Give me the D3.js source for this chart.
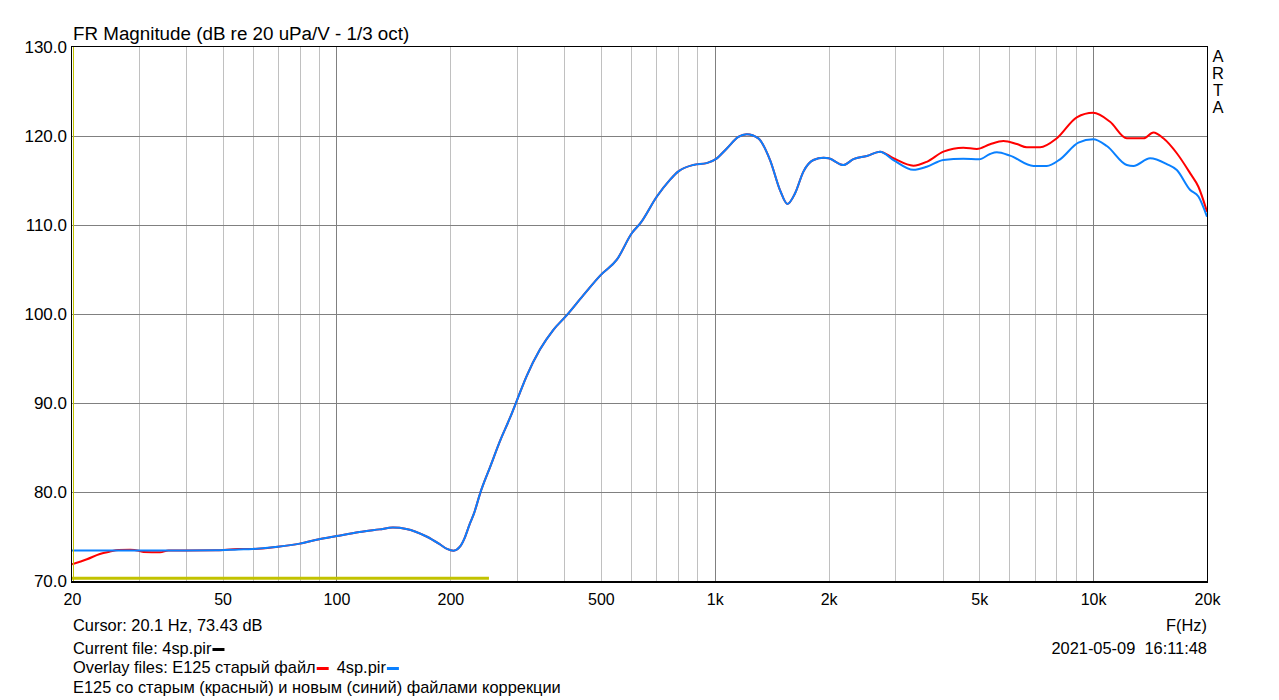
<!DOCTYPE html>
<html>
<head>
<meta charset="utf-8">
<script src="https://cdn.jsdelivr.net/npm/d3@7"></script>
<style>
  html, body { margin: 0; padding: 0; background: #fff; }
  svg text { font-family: "Liberation Sans", Arial, sans-serif; fill: #000; }
</style>
</head>
<body>
<svg id="chart" width="1279" height="700"></svg>
<script>
// ---------- data ----------
const blueFreq = [20, 30, 40, 48, 55, 60, 70, 80, 90, 100, 115, 130, 141, 153, 173, 188, 196, 204, 212, 218, 225, 231, 240, 255, 271, 288, 300, 318, 345, 374, 403, 449, 500, 551, 604, 636, 703, 762, 800, 878, 952, 1006, 1076, 1154, 1215, 1304, 1400, 1488, 1556, 1630, 1715, 1823, 1940, 2000, 2187, 2325, 2522, 2735, 2966, 3349, 3633, 4020, 4540, 5000, 5341, 5565, 6030, 6954, 7543, 8180, 9144, 10000, 10869, 12275, 12780, 14144, 15659, 16644, 18057, 18980, 20000];
const blueDb = [73.43, 73.43, 73.43, 73.45, 73.55, 73.6, 73.85, 74.2, 74.7, 75.05, 75.5, 75.8, 76.0, 75.85, 75.0, 74.1, 73.6, 73.4, 73.85, 74.8, 76.4, 77.6, 79.9, 82.85, 85.8, 88.4, 90.3, 93.0, 96.0, 98.2, 99.7, 102.1, 104.4, 106.1, 109.1, 110.2, 113.2, 115.1, 116.0, 116.75, 116.95, 117.4, 118.6, 119.9, 120.2, 119.74, 117.3, 113.9, 112.36, 113.56, 116.0, 117.3, 117.56, 117.5, 116.74, 117.4, 117.75, 118.24, 117.3, 116.2, 116.55, 117.3, 117.45, 117.38, 117.98, 118.17, 117.8, 116.63, 116.63, 117.38, 119.25, 119.63, 118.88, 116.74, 116.63, 117.5, 116.85, 116.18, 113.93, 113.2, 110.93];

const redFreq = [20, 21.9, 23.7, 25.2, 26.5, 28.5, 30.0, 30.9, 34.2, 36, 40, 48, 55, 60, 70, 80, 90, 100, 115, 130, 141, 153, 173, 188, 196, 204, 212, 218, 225, 231, 240, 255, 271, 288, 300, 318, 345, 374, 403, 449, 500, 551, 604, 636, 703, 762, 800, 878, 952, 1006, 1076, 1154, 1215, 1304, 1400, 1488, 1556, 1630, 1715, 1823, 1940, 2000, 2187, 2325, 2522, 2735, 2966, 3349, 3633, 4020, 4540, 4928, 5341, 5792, 6288, 6680, 7244, 8018, 9054, 10000, 11088, 12275, 13582, 14434, 15336, 16644, 18057, 18980, 20000];
const redDb = [71.88, 72.44, 73.03, 73.3, 73.48, 73.5, 73.4, 73.25, 73.22, 73.43, 73.43, 73.45, 73.6, 73.6, 73.85, 74.2, 74.7, 75.05, 75.5, 75.8, 76.0, 75.85, 75.0, 74.1, 73.6, 73.4, 73.85, 74.8, 76.4, 77.6, 79.9, 82.85, 85.8, 88.4, 90.3, 93.0, 96.0, 98.2, 99.7, 102.1, 104.4, 106.1, 109.1, 110.2, 113.2, 115.1, 116.0, 116.75, 116.95, 117.4, 118.6, 119.9, 120.2, 119.74, 117.3, 113.9, 112.36, 113.56, 116.0, 117.3, 117.56, 117.5, 116.74, 117.4, 117.75, 118.24, 117.5, 116.66, 117.1, 118.24, 118.69, 118.54, 119.07, 119.44, 119.1, 118.73, 118.73, 119.74, 122.1, 122.6, 121.6, 119.74, 119.74, 120.4, 119.74, 118.06, 115.8, 114.3, 111.5];

const yellowFreq = [20, 253];
const yellowDb = [70.3, 70.3];

const cursorFreq = [20.1];

const yTicks = [70, 80, 90, 100, 110, 120, 130];
const xTickValues = [20, 50, 100, 200, 500, 1000, 2000, 5000, 10000, 20000];
const xTickLabels = ["20", "50", "100", "200", "500", "1k", "2k", "5k", "10k", "20k"];
const xMajorGrid = [100, 1000, 10000];
const xMinorGrid = [30, 40, 50, 60, 70, 80, 90, 200, 300, 400, 500, 600, 700, 800, 900,
                    2000, 3000, 4000, 5000, 6000, 7000, 8000, 9000];

const titleText = "FR Magnitude (dB re 20 uPa/V - 1/3 oct)";
const brandLetters = ["A", "R", "T", "A"];
const cursorText = "Cursor: 20.1 Hz, 73.43 dB";
const currentFileText = "Current file: 4sp.pir";
const overlayPrefix = "Overlay files: E125 старый файл";
const overlaySecond = "4sp.pir";
const commentText = "E125 со старым (красный) и новым (синий) файлами коррекции";
const axisUnitText = "F(Hz)";
const dateText = "2021-05-09  16:11:48";

// ---------- layout ----------
const L = 72, R = 1207, T = 47, B = 581;
const BLUE = "#0a80ff", RED = "#ff0000", YELLOW = "#c2c200";

const svg = d3.select("#chart");
const x = d3.scaleLog().domain([20, 20000]).range([L, R]);
const y = d3.scaleLinear().domain([70, 130]).range([B, T]);

// grid
const g = svg.append("g").attr("shape-rendering", "crispEdges");
g.selectAll("line.minor").data(xMinorGrid).join("line")
  .attr("x1", d => Math.round(x(d)) + 0.5).attr("x2", d => Math.round(x(d)) + 0.5)
  .attr("y1", T).attr("y2", B).attr("stroke", "#c0c0c0").attr("stroke-width", 1);
g.selectAll("line.major").data(xMajorGrid).join("line")
  .attr("x1", d => Math.round(x(d)) + 0.5).attr("x2", d => Math.round(x(d)) + 0.5)
  .attr("y1", T).attr("y2", B).attr("stroke", "#808080").attr("stroke-width", 1);
g.selectAll("line.h").data(yTicks.slice(1, -1)).join("line")
  .attr("x1", L).attr("x2", R)
  .attr("y1", d => Math.round(y(d)) + 0.5).attr("y2", d => Math.round(y(d)) + 0.5)
  .attr("stroke", "#808080").attr("stroke-width", 1);

// clip
svg.append("clipPath").attr("id", "clip").append("rect")
  .attr("x", L).attr("y", T - 2).attr("width", R - L).attr("height", B - T + 2);

const line = d3.line().x(d => x(d[0])).y(d => y(d[1])).curve(d3.curveMonotoneX);
const plot = svg.append("g").attr("clip-path", "url(#clip)");

plot.append("path").datum(d3.zip(yellowFreq, yellowDb))
  .attr("d", d3.line().x(d => x(d[0])).y(d => y(d[1])))
  .attr("fill", "none").attr("stroke", YELLOW).attr("stroke-width", 3);
plot.append("path").datum(d3.zip(redFreq, redDb))
  .attr("d", line).attr("fill", "none").attr("stroke", RED).attr("stroke-width", 2);
plot.append("path").datum(d3.zip(blueFreq, blueDb))
  .attr("d", line).attr("fill", "none").attr("stroke", BLUE).attr("stroke-width", 2);

// frame
const fr = svg.append("g").attr("shape-rendering", "crispEdges").attr("stroke", "#000");
fr.append("line").attr("x1", L - 1).attr("x2", R + 1).attr("y1", T - 0.5).attr("y2", T - 0.5).attr("stroke-width", 1);
fr.append("line").attr("x1", L - 1).attr("x2", R + 1).attr("y1", B + 1).attr("y2", B + 1).attr("stroke-width", 2);
fr.append("line").attr("x1", L - 0.5).attr("x2", L - 0.5).attr("y1", T - 1).attr("y2", B + 2).attr("stroke-width", 1);
fr.append("line").attr("x1", R + 0.5).attr("x2", R + 0.5).attr("y1", T - 1).attr("y2", B + 2).attr("stroke-width", 1);
// cursor line
svg.selectAll("line.cursor").data(cursorFreq).join("line")
  .attr("class", "cursor").attr("shape-rendering", "crispEdges")
  .attr("x1", d => Math.round(x(d)) + 0.5).attr("x2", d => Math.round(x(d)) + 0.5).attr("y1", T).attr("y2", B)
  .attr("stroke", YELLOW).attr("stroke-width", 1);

// axes
const yAxis = d3.axisLeft(y).tickValues(yTicks).tickFormat(d3.format(".1f")).tickSize(0).tickPadding(5);
const ya = svg.append("g").attr("transform", `translate(${L},0)`).call(yAxis);
ya.select(".domain").remove();
ya.selectAll("text").attr("font-size", 17).attr("font-family", "Liberation Sans, Arial, sans-serif").attr("fill", "#000");

const xAxis = d3.axisBottom(x).tickValues(xTickValues).tickFormat((d, i) => xTickLabels[i]).tickSize(0).tickPadding(13);
const xa = svg.append("g").attr("transform", `translate(0,${B})`).call(xAxis);
xa.select(".domain").remove();
xa.selectAll("text").attr("font-size", 16).attr("font-family", "Liberation Sans, Arial, sans-serif").attr("fill", "#000");

// title
svg.append("text").attr("x", 73).attr("y", 40).attr("font-size", 18.8).text(titleText);

// ARTA
svg.selectAll("text.brand").data(brandLetters).join("text")
  .attr("class", "brand").attr("x", 1218).attr("y", (d, i) => 62 + i * 17)
  .attr("text-anchor", "middle").attr("font-size", 16.5).text(d => d);

// bottom texts
const fs = 16.4;
svg.append("text").attr("x", 73).attr("y", 631).attr("font-size", fs).text(cursorText);
const cf = svg.append("text").attr("x", 73).attr("y", 654).attr("font-size", fs).text(currentFileText);
const cfw = cf.node().getComputedTextLength();
svg.append("rect").attr("x", 73 + cfw + 1).attr("y", 648).attr("width", 12).attr("height", 3).attr("fill", "#000");

const ov = svg.append("text").attr("x", 73).attr("y", 673).attr("font-size", fs).text(overlayPrefix);
const ovw = ov.node().getComputedTextLength();
svg.append("rect").attr("x", 73 + ovw + 1).attr("y", 667).attr("width", 12).attr("height", 3).attr("fill", RED);
const ov2x = 73 + ovw + 1 + 12 + 8;
const ov2 = svg.append("text").attr("x", ov2x).attr("y", 673).attr("font-size", fs).text(overlaySecond);
const ov2w = ov2.node().getComputedTextLength();
svg.append("rect").attr("x", ov2x + ov2w + 1).attr("y", 667).attr("width", 12).attr("height", 3).attr("fill", BLUE);

svg.append("text").attr("x", 73).attr("y", 693).attr("font-size", fs).text(commentText);

svg.append("text").attr("x", 1207).attr("y", 631).attr("text-anchor", "end").attr("font-size", fs).text(axisUnitText);
svg.append("text").attr("x", 1207).attr("y", 654).attr("text-anchor", "end").attr("font-size", fs)
  .attr("xml:space", "preserve").style("white-space", "pre").text(dateText);
</script>
</body>
</html>
